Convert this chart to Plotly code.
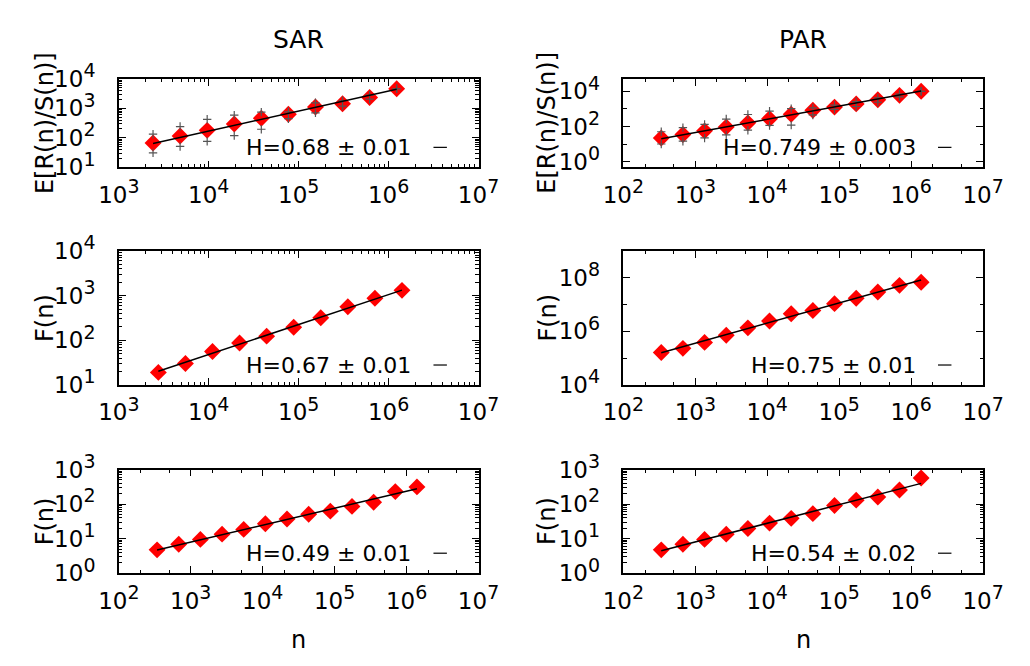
import numpy as np
import plotly.graph_objects as go
from plotly.subplots import make_subplots

FONT = "DejaVu Sans, Liberation Sans, Arial, sans-serif"

# ---- SAR, rescaled range ----
n_sar_rs = [2400, 4800, 9600, 19200, 38400, 76800, 153600, 307200, 614400, 1228800]
rs_sar = [67, 115, 180, 295, 465, 630, 1110, 1430, 2330, 4650]
rs_sar_hi = [133, 242, 427, 590, 745, 766, 1550, 1820, 2800, 4650]
rs_sar_lo = [31, 51, 76, 119, 196, 447, 710, 1200, 2050, 4650]

# ---- PAR, rescaled range ----
n_par = [336, 672, 1344, 2688, 5376, 10752, 21504, 43008, 86016, 172032,
         344064, 688128, 1376256]
rs_par = [22.8, 35.6, 58, 95, 164, 279, 500, 850, 1275, 1940, 3300, 5900, 10000]
rs_par_hi = [51.5, 88, 133, 269, 486, 750, 1050, 1150, 1670, 2570, 4200, 6900, 10000]
rs_par_lo = [10.4, 15, 23, 34, 63, 117, 122, 460, 950, 1380, 2400, 4800, 10000]

# ---- SAR, middle row fluctuation function ----
n_sar_f1 = [2750, 5500, 11000, 22000, 44000, 88000, 176000, 352000, 704000, 1408000]
f1_sar = [19.1, 30.2, 56, 87, 124, 196, 319, 565, 875, 1313]

# ---- PAR, middle row fluctuation function ----
f1_par = [1.63e5, 2.32e5, 3.87e5, 7.2e5, 1.35e6, 2.44e6, 4.56e6, 5.97e6,
          1.08e7, 1.72e7, 2.95e7, 5.2e7, 6.8e7]

# ---- bottom row fluctuation function ----
n_sar_f2 = [340, 680, 1360, 2720, 5440, 10880, 21760, 43520, 87040, 174080,
            348160, 696320, 1392640]
f2_sar = [4.73, 6.9, 9.5, 13.5, 18.5, 27, 37, 50.7, 62.5, 85.7, 113, 230, 315]
f2_par = [4.73, 6.9, 9.5, 13.5, 19.7, 28.2, 38.6, 52.9, 91.4, 130, 161, 255, 567]

# Hurst exponents with errors, per panel (row-major: SAR, PAR)
hurst = [0.68, 0.749, 0.67, 0.75, 0.49, 0.54]
hurst_err = ["0.01", "0.003", "0.01", "0.01", "0.01", "0.02"]
hurst_txt = ["0.68", "0.749", "0.67", "0.75", "0.49", "0.54"]

column_titles = ["SAR", "PAR"]
y_titles = ["E[R(n)/S(n)]", "F(n)", "F(n)"]

TICK_SIZE = 23
SUP_SIZE = 19

fig = make_subplots(rows=3, cols=2)

panels = [
    (1, 1, n_sar_rs, rs_sar, rs_sar_hi, rs_sar_lo),
    (1, 2, n_par, rs_par, rs_par_hi, rs_par_lo),
    (2, 1, n_sar_f1, f1_sar, None, None),
    (2, 2, n_par, f1_par, None, None),
    (3, 1, n_sar_f2, f2_sar, None, None),
    (3, 2, n_par, f2_par, None, None),
]

for i, (r, c, n, y, hi, lo) in enumerate(panels):
    n_arr = np.array(n, dtype=float)
    y_arr = np.array(y, dtype=float)
    fig.add_trace(go.Scatter(x=n, y=y, mode="markers",
                             marker=dict(symbol="diamond", size=13, color="#ff0000",
                                         line=dict(width=0)),
                             showlegend=False), row=r, col=c)
    if hi is not None:
        fig.add_trace(go.Scatter(x=n + n, y=hi + lo, mode="markers",
                                 marker=dict(symbol="cross-thin", size=6,
                                             line=dict(width=1.2, color="#555555")),
                                 showlegend=False), row=r, col=c)
    # power-law fit with slope fixed at the quoted Hurst exponent
    H = hurst[i]
    intercept = np.mean(np.log10(y_arr) - H * np.log10(n_arr))
    xf = np.array([n_arr[0], n_arr[-1]])
    yf = 10 ** (intercept + H * np.log10(xf))
    fig.add_trace(go.Scatter(x=xf, y=yf, mode="lines",
                             line=dict(color="black", width=1.5),
                             showlegend=False), row=r, col=c)

W, Hpx = 1030, 666
col_px = [(102, 477), (628, 1003)]
row_px = [(62, 155), (243, 384), (473, 582)]

x_ranges = {(1, 1): (3, 7), (2, 1): (3, 7)}
y_specs = {
    (1, 1): ((1, 4), [1, 2, 3, 4], "D1"),
    (1, 2): ((np.log10(0.5), np.log10(5e4)), [0, 2, 4], 1),
    (2, 1): ((1, 4), [1, 2, 3, 4], "D1"),
    (2, 2): ((4, 9), [4, 6, 8], 1),
    (3, 1): ((0, 3), [0, 1, 2, 3], "D1"),
    (3, 2): ((0, 3), [0, 1, 2, 3], "D1"),
}

def decade_ticks(exps):
    vals = [10.0 ** e for e in exps]
    text = [f"10<sup><span style='font-size:{SUP_SIZE}px'>{e}</span></sup>" for e in exps]
    return vals, text

axis_base = dict(type="log", showgrid=False, zeroline=False, showline=True,
                 linecolor="black", linewidth=1.5, mirror="allticks",
                 ticks="inside", ticklen=7, tickwidth=1, tickcolor="black",
                 tickfont=dict(family=FONT, size=TICK_SIZE, color="black"))

k = 0
for r in range(1, 4):
    for c in range(1, 3):
        k += 1
        suffix = "" if k == 1 else str(k)
        x0, x1 = col_px[c - 1]
        t0, t1 = row_px[r - 1]
        xr = x_ranges.get((r, c), (2, 7))
        xexp = list(range(int(xr[0]), int(xr[1]) + 1))
        xtv, xtt = decade_ticks(xexp)
        xminor = "D1" if (xr[1] - xr[0]) <= 4 else "D2"
        yr, yexp, yminor = y_specs[(r, c)]
        ytv, ytt = decade_ticks(yexp)
        fig.layout["xaxis" + suffix].update(
            axis_base, domain=[x0 / W, x1 / W], range=list(xr),
            tickmode="array", tickvals=xtv, ticktext=xtt, ticklabelstandoff=6,
            minor=dict(ticks="inside", ticklen=3.5, tickwidth=1, tickcolor="black",
                       dtick=xminor, showgrid=False))
        fig.layout["yaxis" + suffix].update(
            axis_base, domain=[1 - t1 / Hpx, 1 - t0 / Hpx], range=list(yr),
            tickmode="array", tickvals=ytv, ticktext=ytt, ticklabelstandoff=17,
            minor=dict(ticks="inside", ticklen=3.5, tickwidth=1, tickcolor="black",
                       dtick=yminor, showgrid=False))

        # key: label text followed by a short line sample
        h = t1 - t0
        wpx = x1 - x0
        ykey = 21 / h
        fig.add_annotation(xref=f"x{suffix} domain", yref=f"y{suffix} domain",
                           x=1 - 68 / wpx, y=ykey, xanchor="right", yanchor="middle",
                           text=f"H={hurst_txt[k-1]} ± {hurst_err[k-1]}",
                           showarrow=False,
                           font=dict(family=FONT, size=22, color="black"))
        fig.add_shape(type="line", xref=f"x{suffix} domain", yref=f"y{suffix} domain",
                      x0=1 - 47 / wpx, x1=1 - 33 / wpx, y0=ykey, y1=ykey,
                      line=dict(color="black", width=1.2))

        # y axis title
        fig.add_annotation(xref="paper", yref="paper",
                           x=(25 if c == 1 else 549) / W, y=1 - (t0 + t1) / 2 / Hpx,
                           text=y_titles[r - 1], textangle=-90, showarrow=False,
                           xanchor="center", yanchor="middle",
                           font=dict(family=FONT, size=24, color="black"))

for c, title in enumerate(column_titles):
    x0, x1 = col_px[c]
    fig.add_annotation(xref="paper", yref="paper", x=(x0 + x1) / 2 / W,
                       y=1 - 21 / Hpx, text=title, showarrow=False,
                       xanchor="center", yanchor="middle",
                       font=dict(family=FONT, size=25, color="black"))
    fig.add_annotation(xref="paper", yref="paper", x=(x0 + x1) / 2 / W,
                       y=1 - 652 / Hpx, text="n", showarrow=False,
                       xanchor="center", yanchor="middle",
                       font=dict(family=FONT, size=24, color="black"))

fig.update_layout(width=W, height=Hpx, autosize=False,
                  margin=dict(l=0, r=0, t=0, b=0),
                  paper_bgcolor="white", plot_bgcolor="white",
                  font=dict(family=FONT, color="black"))

fig.write_html("out.html")
